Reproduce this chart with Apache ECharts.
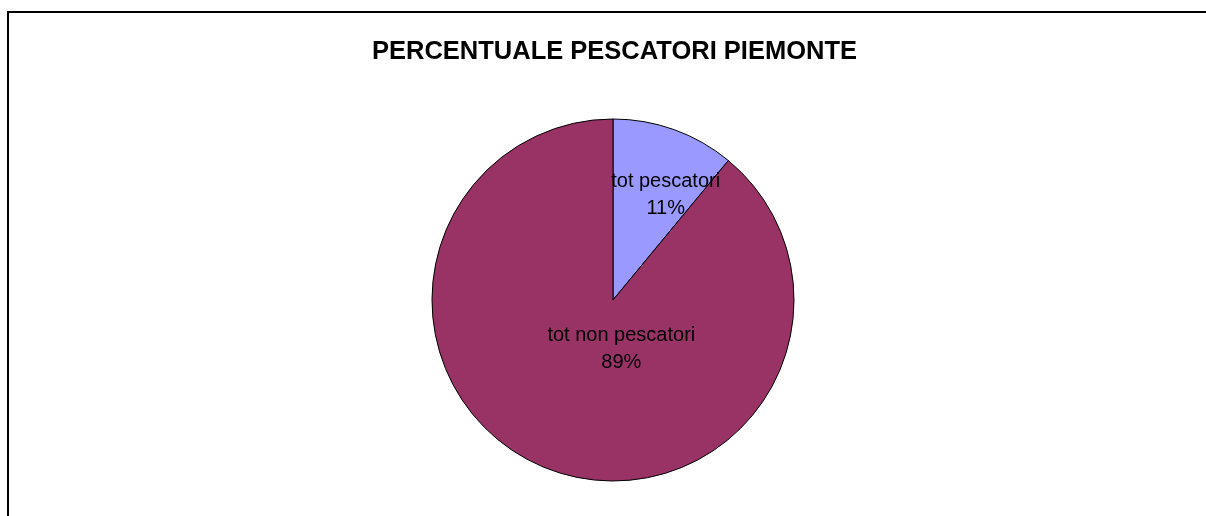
<!DOCTYPE html>
<html>
<head>
<meta charset="utf-8">
<script src="https://cdn.jsdelivr.net/npm/echarts@6/dist/echarts.min.js"></script>
<style>
  html, body { margin: 0; padding: 0; background: #fff; }
  #chart { width: 1206px; height: 516px; }
</style>
</head>
<body>
<div id="chart"></div>
<script>
// data
const categories = ['tot pescatori', 'tot non pescatori']
const values = [11, 89]
const colors = ['#9999FF', '#993366']
// label nudges so text sits where Excel put it
const labelOffsets = [[21, -17], [40, -39]]

const chart = echarts.init(document.getElementById('chart'))

const option = {
  backgroundColor: '#fff',
  animation: false,
  title: {
    text: 'PERCENTUALE PESCATORI PIEMONTE',
    left: 367,
    top: 34,
    textStyle: {
      fontFamily: 'Liberation Sans, Arial, sans-serif',
      fontSize: 25.5,
      fontWeight: 'bold',
      color: '#000',
    },
  },
  graphic: [
    {
      type: 'rect',
      shape: { x: 8, y: 12, width: 1400, height: 700 },
      style: { fill: 'none', stroke: '#000', lineWidth: 2 },
      silent: true,
    },
  ],
  series: [
    {
      type: 'pie',
      center: [613, 300],
      radius: 181,
      startAngle: 90,
      clockwise: true,
      data: categories.map((name, i) => ({
        name,
        value: values[i],
        itemStyle: { color: colors[i] },
        label: { offset: labelOffsets[i] },
      })),
      itemStyle: { borderColor: '#000', borderWidth: 1 },
      label: {
        show: true,
        position: 'inside',
        formatter: '{b}\n{d}%',
        fontFamily: 'Liberation Sans, Arial, sans-serif',
        fontSize: 20,
        lineHeight: 27,
        color: '#000',
      },
      labelLine: { show: false },
      emphasis: { disabled: true },
    },
  ],
}

chart.setOption(option)
window.addEventListener('resize', () => chart.resize())
</script>
</body>
</html>
